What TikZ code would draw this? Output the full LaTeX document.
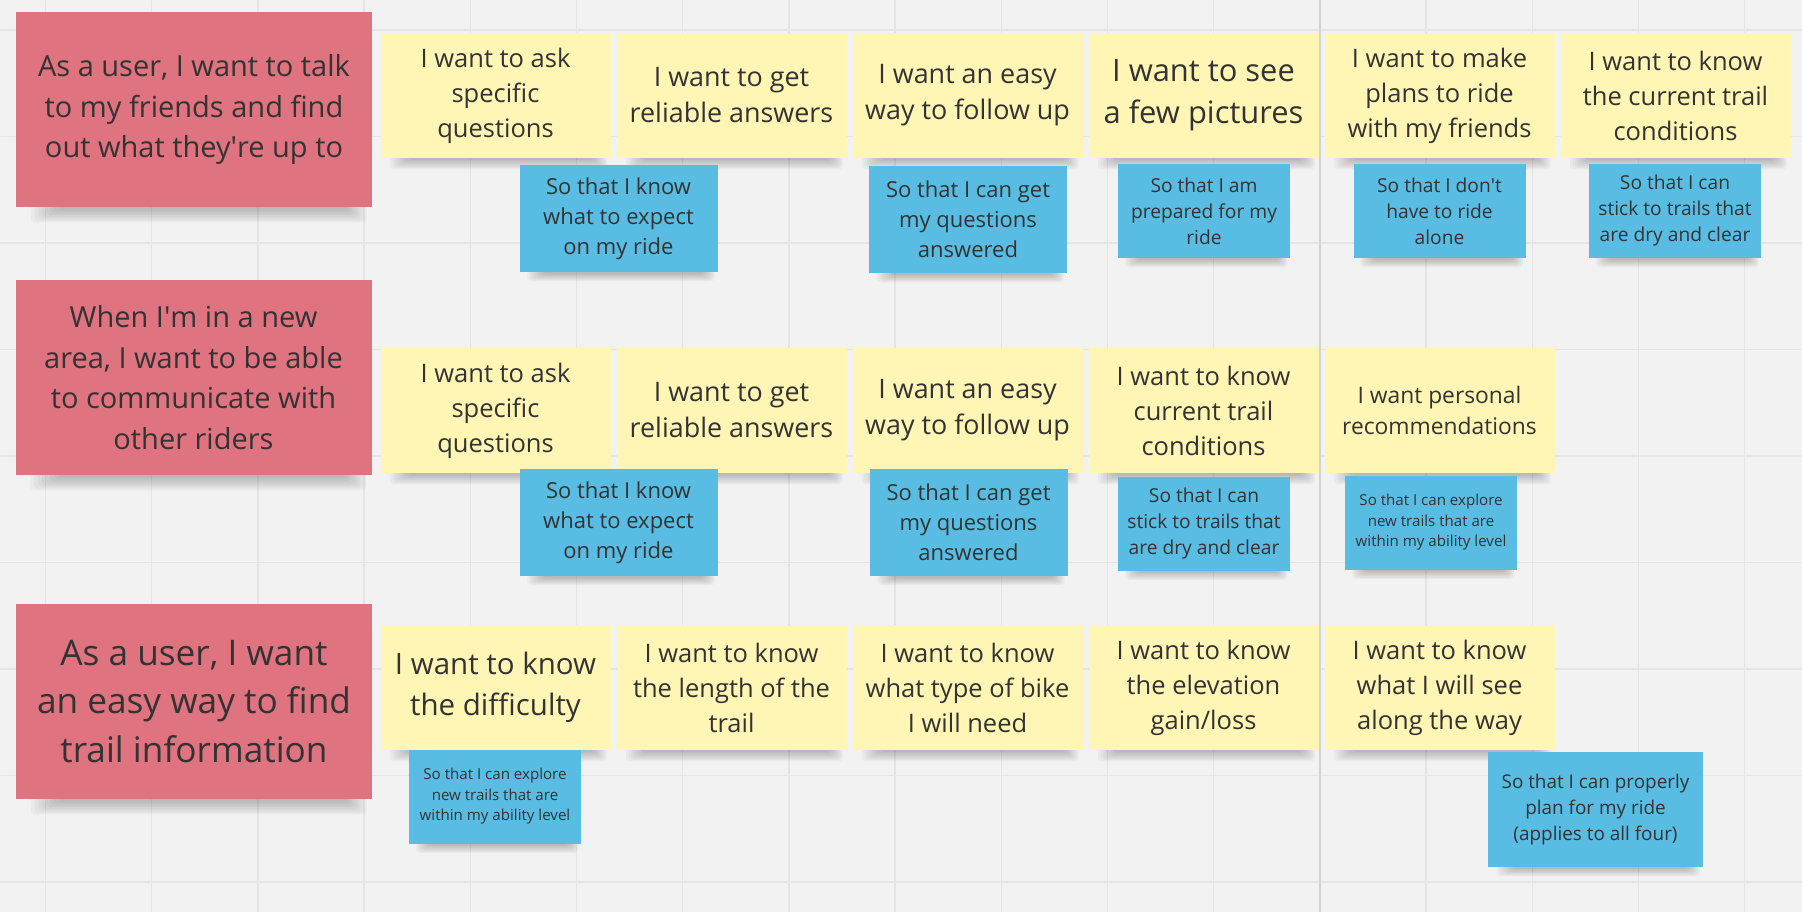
\documentclass[tikz,border=0pt]{standalone}
\usepackage{fontspec}
\setmainfont{Open Sans}
\usetikzlibrary{backgrounds,calc}

\definecolor{boardbg}{RGB}{242,242,242}
\definecolor{gridcol}{RGB}{229,229,229}
\definecolor{redsticky}{RGB}{223,115,128}
\definecolor{yellowsticky}{RGB}{255,246,182}
\definecolor{bluesticky}{RGB}{89,188,226}
\definecolor{inkcol}{RGB}{51,51,51}
\newcommand\notefont[2]{\fontsize{#1}{#2}\selectfont}
\newcommand\ap{\textquotesingle}

\begin{document}
\begin{tikzpicture}[x=0.5pt,y=-0.5pt,
  sticky/.style={inner sep=0pt, align=center, text=inkcol},
  rednote/.style={sticky, fill=redsticky, minimum width=178pt, minimum height=97.5pt, font=\notefont{14.5}{20.25}},
  yellownote/.style={sticky, fill=yellowsticky, minimum width=115pt, minimum height=62.5pt, font=\notefont{12.75}{17.5}},
  bluenote/.style={sticky, fill=bluesticky, minimum width=86pt, minimum height=47pt, font=\notefont{9.6}{13}},
  bigblue/.style={bluenote, minimum width=99pt, minimum height=53.5pt, font=\notefont{11}{15}},
  gridline/.style={gridcol, line width=0.75pt}]
\useasboundingbox (0,0) rectangle (1802,912);

% board and grid
\begin{scope}[on background layer]
\fill[boardbg] (0,0) rectangle (1802,912);
\foreach \k in {0,...,16} \draw[gridline] ({45.5+106.2*\k},0) -- ++(0,912);
\foreach \k in {0,...,8} \draw[gridline] (0,{30+106.5*\k}) -- ++(1802,0);
\draw[gridline, gridcol!92!black, line width=1.3pt] (1320,0) -- (1320,912);
\end{scope}

% goals
\node[rednote] (r1) at (194,109.5) {As a user, I want to talk\\to my friends and find\\out what they\ap{}re up to};
\node[rednote] (r2) at (193.5,377.5) {When I\ap{}m in a new\\area, I want to be able\\to communicate with\\other riders};
\node[rednote, font=\notefont{17.6}{24.15}] (r3) at (194,701.5) {As a user, I want\\an easy way to find\\trail information};

% wants, row 1
\node[yellownote] (ask1) at (495.5,95.5) {I want to ask\\specific\\questions};
\node[yellownote, font=\notefont{13.45}{18}] (get1) at (731.5,95.5) {I want to get\\reliable answers};
\node[yellownote, font=\notefont{13.45}{18}] (follow1) at (967.5,95.5) {I want an easy\\way to follow up};
\node[yellownote, font=\notefont{15.45}{21}] (pics) at (1203.5,95.5) {I want to see\\a few pictures};
\node[yellownote] (plans) at (1439.5,95.5) {I want to make\\plans to ride\\with my friends};
\node[yellownote] (cond1) at (1675.5,95.5) {I want to know\\the current trail\\conditions};

% wants, row 2
\node[yellownote] (ask2) at (495.5,410.5) {I want to ask\\specific\\questions};
\node[yellownote, font=\notefont{13.45}{18}] (get2) at (731.5,410.5) {I want to get\\reliable answers};
\node[yellownote, font=\notefont{13.45}{18}] (follow2) at (967.5,410.5) {I want an easy\\way to follow up};
\node[yellownote] (cond2) at (1203.5,410.5) {I want to know\\current trail\\conditions};
\node[yellownote, font=\notefont{11.4}{15.75}] (recs) at (1439.5,410.5) {I want personal\\recommendations};

% wants, row 3
\node[yellownote, font=\notefont{14.75}{20.5}] (diff) at (495.5,687.5) {I want to know\\the difficulty};
\node[yellownote] (length) at (731.5,687.5) {I want to know\\the length of the\\trail};
\node[yellownote] (bike) at (967.5,687.5) {I want to know\\what type of bike\\I will need};
\node[yellownote] (elev) at (1203.5,687.5) {I want to know\\the elevation\\gain/loss};
\node[yellownote] (view) at (1439.5,687.5) {I want to know\\what I will see\\along the way};

% reasons
\node[bigblue] (expect1) at (618.5,218.5) {So that I know\\what to expect\\on my ride};
\node[bigblue] (answ1) at (968,219.5) {So that I can get\\my questions\\answered};
\node[bluenote] (prep) at (1204,211) {So that I am\\prepared for my\\ride};
\node[bluenote] (alone) at (1439.5,211) {So that I don\ap{}t\\have to ride\\alone};
\node[bluenote] (dry1) at (1675,211) {So that I can\\stick to trails that\\are dry and clear};
\node[bigblue] (expect2) at (618.5,522.5) {So that I know\\what to expect\\on my ride};
\node[bigblue] (answ2) at (968.5,522.5) {So that I can get\\my questions\\answered};
\node[bluenote] (dry2) at (1204,523.5) {So that I can\\stick to trails that\\are dry and clear};
\node[bluenote, font=\notefont{7.55}{10.25}] (explore2) at (1431,522.5) {So that I can explore\\new trails that are\\within my ability level};
\node[bluenote, font=\notefont{7.55}{10.25}] (explore3) at (495,796.5) {So that I can explore\\new trails that are\\within my ability level};
\node[bluenote, minimum width=107.5pt, minimum height=57.5pt, font=\notefont{9.45}{13}] (plan) at (1595.5,809.5) {So that I can properly\\plan for my ride\\(applies to all four)};

% soft shadows under the stickies
\begin{scope}[on background layer]
\foreach \n/\d in {r1/15,r2/15,r3/15,ask1/11,get1/11,follow1/11,pics/11,plans/11,cond1/11,
  ask2/11,get2/11,follow2/11,cond2/11,recs/11,diff/11,length/11,bike/11,elev/11,view/11,
  expect1/9,answ1/9,prep/9,alone/9,dry1/9,expect2/9,answ2/9,dry2/9,explore2/9,explore3/9,plan/9}
  \foreach \i in {1,...,8}
    \fill[black, opacity=.03, rounded corners=2pt]
      ($(\n.south west)!{.13-.011*\i}!(\n.south east)+(0,-3)$) rectangle
      ($(\n.south east)!{.08-.008*\i}!(\n.south west)+(0,{\d*\i/8})$);
\end{scope}
\end{tikzpicture}
\end{document}
